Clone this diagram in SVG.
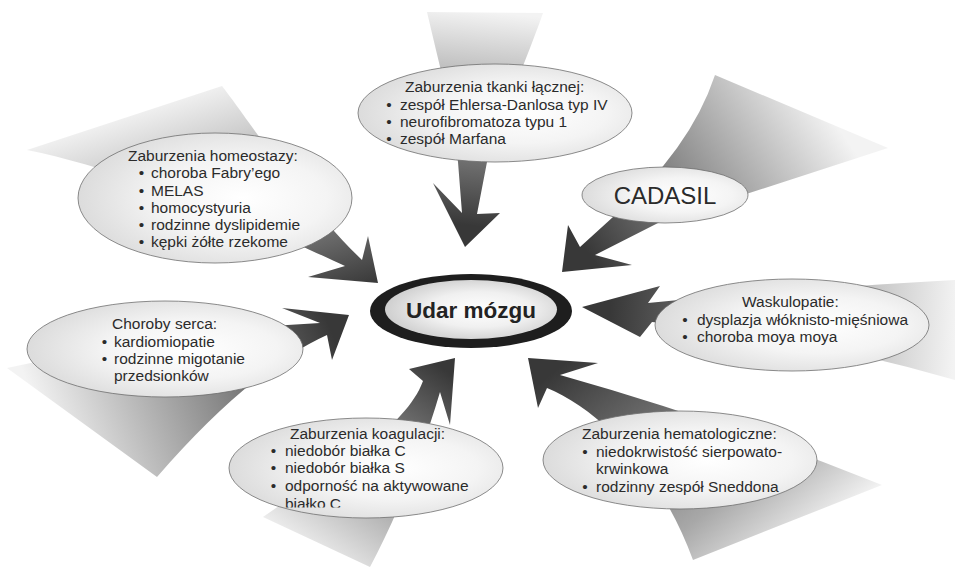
<svg xmlns="http://www.w3.org/2000/svg" width="955" height="569" viewBox="0 0 955 569">
<style>
.t{font-family:"Liberation Sans",Arial,sans-serif;font-size:15.5px;fill:#2b2b2b}
.b{text-anchor:middle}
.ell{fill:url(#ellFill);stroke:#6e6e6e;stroke-width:0.8}
.s0{stop-color:#f3f3f3}
.s1{stop-color:#383838}
</style>
<defs>
<radialGradient id="ellFill" cx="0.6" cy="0.5" r="0.62">
<stop offset="0" stop-color="#ffffff"/>
<stop offset="0.5" stop-color="#f4f4f4"/>
<stop offset="1" stop-color="#dadada"/>
</radialGradient>
<radialGradient id="centerFill" cx="0.55" cy="0.5" r="0.6">
<stop offset="0" stop-color="#ffffff"/>
<stop offset="0.5" stop-color="#f0f0f0"/>
<stop offset="1" stop-color="#c8c8c8"/>
</radialGradient>
<linearGradient id="g1" gradientUnits="userSpaceOnUse" x1="485" y1="12" x2="465" y2="225"><stop offset="0" class="s0"/><stop offset="1" class="s1"/></linearGradient>
<linearGradient id="g2" gradientUnits="userSpaceOnUse" x1="820" y1="100" x2="590" y2="255"><stop offset="0" class="s0"/><stop offset="1" class="s1"/></linearGradient>
<linearGradient id="g3" gradientUnits="userSpaceOnUse" x1="955" y1="330" x2="610" y2="312"><stop offset="0" class="s0"/><stop offset="1" class="s1"/></linearGradient>
<linearGradient id="g4" gradientUnits="userSpaceOnUse" x1="882" y1="485" x2="701" y2="256"><stop offset="0" class="s0"/><stop offset="0.3" stop-color="#a8a8a8"/><stop offset="1" class="s1"/></linearGradient>
<linearGradient id="g5" gradientUnits="userSpaceOnUse" x1="310" y1="560" x2="445" y2="370"><stop offset="0" class="s0"/><stop offset="1" class="s1"/></linearGradient>
<linearGradient id="g6" gradientUnits="userSpaceOnUse" x1="50" y1="440" x2="330" y2="328"><stop offset="0" class="s0"/><stop offset="1" class="s1"/></linearGradient>
<linearGradient id="g7" gradientUnits="userSpaceOnUse" x1="125" y1="118" x2="198.5" y2="342"><stop offset="0" stop-color="#efefef"/><stop offset="0.2" stop-color="#cfcfcf"/><stop offset="0.75" stop-color="#6a6a6a"/><stop offset="1" class="s1"/></linearGradient>
<clipPath id="clipB"><rect x="250" y="495" width="150" height="12.5"/></clipPath>
</defs>
<rect width="955" height="569" fill="#fff"/>
<g id="connectors">
<path fill="url(#g1)" d="M427,12 L543,13 C532,45 505,110 487,162 L477,214 L500,213 L465,247 L433,183 L462,213 L458,162 C452,110 438,60 427,12 Z"/>
<path fill="url(#g2)" d="M715,75 Q690,150 613,217 L580,247 L568,225 L562,272 L632,265 L595,255 L660,222 L888,148 Z"/>
<path fill="url(#g3)" d="M955,280 Q780,290 648,303 L660,286 L582,307 L640,337 L652,322 Q800,335 955,380 Z"/>
<path fill="url(#g4)" d="M882,485 Q720,420 560,375 L598,363 L528,358 L538,408 L547,388 C600,410 660,470 693,560 Z"/>
<path fill="url(#g5)" d="M263,517 C330,470 405,430 423,381 L409,369 L455,358 L450,425 L440,392 C420,460 395,520 370,567 Z"/>
<path fill="url(#g6)" d="M7,368 Q180,330 320,323 L282,308 L349,315 L332,360 L327,335 Q250,370 157,477 Z"/>
<path fill="url(#g7)" d="M222,86 C245,115 300,200 362,260 L368,236 L378,283 L308,277 L345,266 C300,245 150,175 27,150 Z"/>
</g>
<g id="node-tkanki">
<ellipse class="ell" cx="495" cy="113" rx="137" ry="49"/>
<text class="t" x="405" y="92">Zaburzenia tkanki łącznej:</text>
<text class="t b" x="389" y="110">•</text><text class="t" x="400" y="110">zespół Ehlersa-Danlosa typ IV</text>
<text class="t b" x="389" y="127">•</text><text class="t" x="400" y="127">neurofibromatoza typu 1</text>
<text class="t b" x="389" y="144">•</text><text class="t" x="400" y="144">zespół Marfana</text>
</g>
<g id="node-homeostazy">
<ellipse class="ell" cx="215" cy="198" rx="137" ry="65"/>
<text class="t" x="128" y="161">Zaburzenia homeostazy:</text>
<text class="t b" x="141.5" y="178">•</text><text class="t" x="151" y="178">choroba Fabry’ego</text>
<text class="t b" x="141.5" y="196">•</text><text class="t" x="151" y="196">MELAS</text>
<text class="t b" x="141.5" y="213">•</text><text class="t" x="151" y="213">homocystyuria</text>
<text class="t b" x="141.5" y="230">•</text><text class="t" x="151" y="230">rodzinne dyslipidemie</text>
<text class="t b" x="141.5" y="247">•</text><text class="t" x="151" y="247">kępki żółte rzekome</text>
</g>
<g id="node-cadasil">
<ellipse class="ell" cx="665" cy="195" rx="83" ry="28"/>
<text class="t" x="665" y="204" text-anchor="middle" style="font-size:24px">CADASIL</text>
</g>
<g id="node-waskulopatie">
<ellipse class="ell" cx="792" cy="325" rx="137" ry="46"/>
<text class="t" x="742" y="307">Waskulopatie:</text>
<text class="t b" x="685" y="324.5">•</text><text class="t" x="697" y="324.5">dysplazja włóknisto-mięśniowa</text>
<text class="t b" x="685" y="342">•</text><text class="t" x="697" y="342">choroba moya moya</text>
</g>
<g id="node-hematologiczne">
<ellipse class="ell" cx="680" cy="460" rx="137" ry="49"/>
<text class="t" x="582" y="439">Zaburzenia hematologiczne:</text>
<text class="t b" x="585" y="457">•</text><text class="t" x="596" y="457">niedokrwistość sierpowato-</text>
<text class="t" x="596" y="474">krwinkowa</text>
<text class="t b" x="585" y="492">•</text><text class="t" x="596" y="492">rodzinny zespół Sneddona</text>
</g>
<g id="node-koagulacji">
<ellipse class="ell" cx="366" cy="468" rx="137" ry="50"/>
<text class="t" x="290" y="439">Zaburzenia koagulacji:</text>
<text class="t b" x="273.5" y="456">•</text><text class="t" x="285" y="456">niedobór białka C</text>
<text class="t b" x="273.5" y="473">•</text><text class="t" x="285" y="473">niedobór białka S</text>
<text class="t b" x="273.5" y="491">•</text><text class="t" x="285" y="491">odporność na aktywowane</text>
<text class="t" x="285" y="508.5" clip-path="url(#clipB)">białko C</text>
</g>
<g id="node-serca">
<ellipse class="ell" cx="165" cy="349" rx="138" ry="48"/>
<text class="t" x="112" y="329">Choroby serca:</text>
<text class="t b" x="104.5" y="347">•</text><text class="t" x="114" y="347">kardiomiopatie</text>
<text class="t b" x="104.5" y="364">•</text><text class="t" x="114" y="364">rodzinne migotanie</text>
<text class="t" x="114" y="381">przedsionków</text>
</g>
<g id="node-udar">
<ellipse cx="471" cy="311" rx="101" ry="37" fill="#1e1e1e"/>
<ellipse cx="471" cy="309.5" rx="86" ry="29.5" fill="url(#centerFill)"/>
<text x="471" y="318" text-anchor="middle" style="font-family:'Liberation Sans',Arial,sans-serif;font-size:22.5px;font-weight:bold;fill:#232323">Udar mózgu</text>
</g>
</svg>
